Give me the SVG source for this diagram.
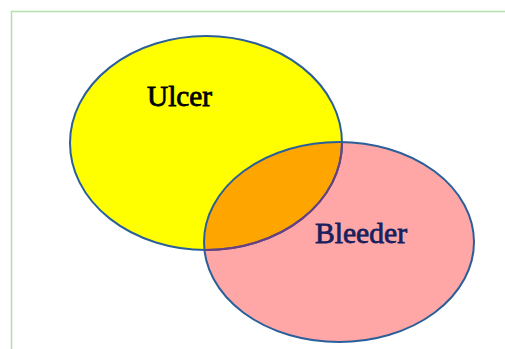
<svg xmlns="http://www.w3.org/2000/svg" width="505" height="349" viewBox="0 0 505 349">
<style>
.frame{stroke:#b4e0a8;stroke-width:1.5;fill:none}
.edge{fill:none;stroke:#2a5f9a;stroke-width:2}
.lbl{font-family:"Liberation Serif","Times New Roman",serif;font-size:29px;stroke-width:0.8}
</style>
<defs>
<clipPath id="inPink"><ellipse cx="339" cy="242" rx="135" ry="100"/></clipPath>
</defs>
<rect width="505" height="349" fill="#ffffff"/>
<path class="frame" d="M11.5 349 V11.5 H505"/>
<g id="ulcer">
<ellipse cx="206" cy="143" rx="136" ry="107" fill="#ffff00"/>
</g>
<g id="bleeder">
<ellipse cx="339" cy="242" rx="135" ry="100" fill="#ffa6a6"/>
</g>
<g id="overlap">
<ellipse cx="206" cy="143" rx="136" ry="107" fill="#ffa500" clip-path="url(#inPink)"/>
</g>
<g id="outlines">
<ellipse class="edge" cx="206" cy="143" rx="136" ry="107"/>
<ellipse cx="206" cy="143" rx="136" ry="107" fill="none" stroke="#6a3f80" stroke-width="2" clip-path="url(#inPink)"/>
<ellipse class="edge" cx="339" cy="242" rx="135" ry="100"/>
</g>
<text class="lbl" x="147" y="106" fill="#000000" stroke="#000000" textLength="65" lengthAdjust="spacingAndGlyphs">Ulcer</text>
<text class="lbl" x="315" y="243" fill="#1a1f5e" stroke="#1a1f5e" textLength="92" lengthAdjust="spacingAndGlyphs">Bleeder</text>
</svg>
